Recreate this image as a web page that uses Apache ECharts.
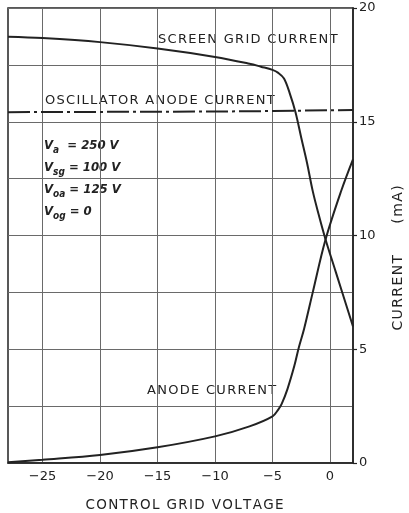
<!DOCTYPE html>
<html>
<head>
<meta charset="utf-8">
<script src="https://cdn.jsdelivr.net/npm/echarts@6/dist/echarts.min.js"></script>
<style>html,body{margin:0;background:#fff}#chart{width:409px;height:513px}</style>
</head>
<body>
<div id="chart"></div>
<script>
// control grid voltage (V) and currents (mA)
const screenV = [-28, -25, -20, -15, -10, -7, -6, -5, -4.5, -4, -3.5, -3, -2.5, -2, -1.5, -1, -0.4, 0.5, 2];
const screenI = [18.74, 18.68, 18.5, 18.22, 17.85, 17.55, 17.42, 17.28, 17.15, 16.9, 16.25, 15.42, 14.3, 13.2, 11.95, 10.95, 9.85, 8.4, 6.0];

const anodeV = [-28, -25, -20, -15, -10, -7, -5, -4.5, -4.2, -3.7, -3.1, -2.7, -2.25, -1.5, -0.4, 1, 2];
const anodeI = [0.03, 0.14, 0.35, 0.69, 1.17, 1.61, 2.05, 2.35, 2.6, 3.25, 4.27, 5.1, 5.9, 7.5, 9.8, 12.0, 13.35];

const oscV = [-28, -10, -5, 2];
const oscI = [15.42, 15.45, 15.47, 15.52];

const xTicks = [-25, -20, -15, -10, -5, 0];
const yTicks = [0, 5, 10, 15, 20];

const chart = echarts.init(document.getElementById('chart'));

const pairs = (xs, ys) => xs.map((x, i) => [x, ys[i]]);
// the drawing uses wide letter spacing
const spaced = s => s.split('').join('\u200A');

const ink = '#222';
const gridInk = '#6a6a6a';
const font = '"DejaVu Sans"';

const curve = (data, extra) => Object.assign({
  type: 'line',
  data: data,
  symbol: 'none',
  smooth: 0.35,
  lineStyle: { color: ink, width: 2 },
  silent: true
}, extra);

const textStyle = { fontFamily: font, fontSize: 13, fill: ink };
const label = (x, y, text) => ({
  type: 'text',
  x: x,
  y: y,
  style: Object.assign({ text: spaced(text), verticalAlign: 'middle' }, textStyle)
});

// italic operating conditions with subscripts
const condFont = '"DejaVu Sans Condensed", "DejaVu Sans"';
const vRich = {
  v: { fontFamily: condFont, fontSize: 13, fontStyle: 'italic', fontWeight: 'bold', fill: ink, lineHeight: 18, verticalAlign: 'middle' },
  s: { fontFamily: condFont, fontSize: 10, fontStyle: 'italic', fontWeight: 'bold', fill: ink, lineHeight: 18, verticalAlign: 'bottom' }
};
const cond = (y, sub, rest) => ({
  type: 'text',
  x: 44,
  y: y,
  style: { text: '{v|V}{s|' + sub + '}{v|' + rest + '}', rich: vRich, verticalAlign: 'middle' }
});

chart.setOption({
  backgroundColor: '#fff',
  animation: false,
  grid: {
    left: 8, right: 56, top: 8, bottom: 50,
    outerBoundsMode: 'none',
    show: true, borderColor: ink, borderWidth: 1.5
  },
  xAxis: {
    type: 'value',
    min: -28,
    max: 2,
    name: spaced('CONTROL GRID VOLTAGE'),
    nameLocation: 'middle',
    nameGap: 35,
    nameTextStyle: { fontFamily: font, fontSize: 13.5, color: ink, padding: [0, 0, 0, 8] },
    axisLine: { show: true, onZero: false, lineStyle: { color: ink, width: 1.5 } },
    axisTick: { show: false, customValues: xTicks },
    axisLabel: {
      customValues: xTicks,
      fontFamily: font, fontSize: 13, color: ink, margin: 7,
      formatter: v => (v < 0 ? '\u2212' + Math.abs(v) : String(v))
    },
    splitLine: { show: true, lineStyle: { color: gridInk, width: 1 } }
  },
  yAxis: [{
    type: 'value',
    position: 'right',
    min: 0,
    max: 20,
    interval: 2.5,
    axisLine: { show: true, onZero: false, lineStyle: { color: ink, width: 1.5 } },
    axisTick: { show: false },
    axisLabel: {
      fontFamily: font, fontSize: 13, color: ink, margin: 6,
      formatter: v => (yTicks.indexOf(v) >= 0 ? String(v) : '')
    },
    splitLine: { show: true, lineStyle: { color: gridInk, width: 1 } }
  }, {
    // short outward ticks at the labelled values only
    type: 'value',
    position: 'right',
    offset: 0,
    min: 0,
    max: 20,
    axisLine: { show: false, onZero: false },
    axisTick: { show: true, customValues: yTicks, length: 4, lineStyle: { color: ink, width: 1.2 } },
    axisLabel: { show: false },
    splitLine: { show: false }
  }],
  series: [
    curve(pairs(screenV, screenI)),
    curve(pairs(anodeV, anodeI)),
    curve(pairs(oscV, oscI), { smooth: false, lineStyle: { color: ink, width: 2, type: [22, 4, 3, 4] } })
  ],
  graphic: [
    label(158, 40, 'SCREEN GRID CURRENT'),
    label(45, 101, 'OSCILLATOR ANODE CURRENT'),
    label(147, 391, 'ANODE CURRENT'),
    cond(146, 'a', '  = 250 V'),
    cond(168, 'sg', ' = 100 V'),
    cond(190, 'oa', ' = 125 V'),
    cond(212, 'og', ' = 0'),
    {
      type: 'text',
      x: 398,
      y: 258,
      rotation: Math.PI / 2,
      style: Object.assign({
        text: spaced('CURRENT') + '       ' + spaced('(mA)'),
        align: 'center',
        verticalAlign: 'middle'
      }, textStyle, { fontSize: 14 })
    }
  ]
});
</script>
</body>
</html>
